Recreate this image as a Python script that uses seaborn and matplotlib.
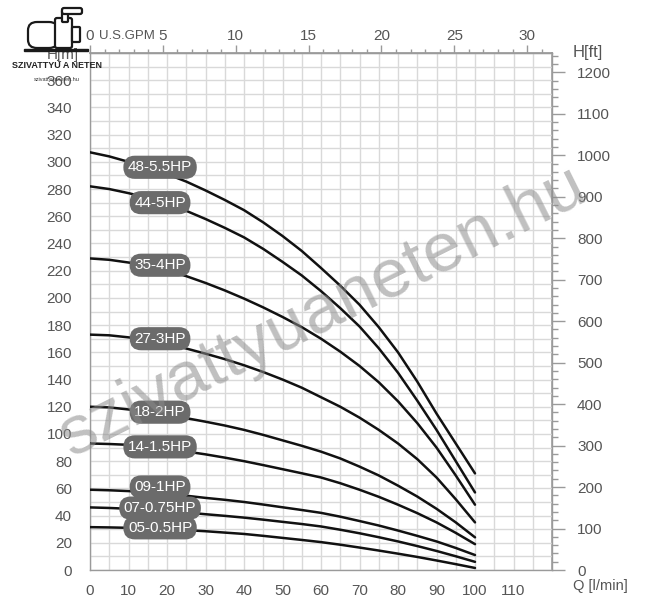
import numpy as np
import pandas as pd
import matplotlib
matplotlib.use("Agg")
import matplotlib.pyplot as plt
import seaborn as sns
from matplotlib.patches import FancyBboxPatch, Rectangle

# ---------------- data ----------------
flow = [0, 5, 10, 15, 20, 25, 30, 35, 40, 45, 50, 55, 60, 65, 70, 75, 80, 85, 90, 95, 100]  # l/min
models = ["48-5.5HP", "44-5HP", "35-4HP", "27-3HP", "18-2HP",
          "14-1.5HP", "09-1HP", "07-0.75HP", "05-0.5HP"]
h_48 = [307, 304, 300, 296, 291, 285.5, 279, 272, 264.5, 255.5, 245.5, 234.5, 222, 209, 195, 178.5, 160, 138.5, 115, 93, 71]
h_44 = [282, 280, 277, 273.5, 269, 264, 258, 251.5, 244.5, 236, 226.5, 216.5, 205, 192.5, 179, 163, 145, 124.5, 103, 80, 57]
h_35 = [229, 228, 226, 223.5, 220, 216, 211, 205.5, 199.5, 193, 186, 178.5, 170, 160.5, 150, 138, 124, 108, 90, 69.5, 48]
h_27 = [173, 172.5, 171, 169, 166, 162.8, 159, 155, 150.5, 145.5, 140, 134, 127, 120, 112, 103, 93, 81.5, 68, 52, 35]
h_18 = [120, 119.5, 118, 116.2, 114, 111.6, 109, 106.2, 103, 99.3, 95.3, 91.3, 87, 82, 76, 69.5, 62, 54, 45, 35, 24]
h_14 = [93, 92.6, 92, 90.7, 89, 87.1, 85, 82.6, 80, 77.1, 74.1, 71.1, 68, 63.8, 59, 53.8, 48, 41.8, 35, 27.3, 19]
h_09 = [59, 58.6, 58, 57.1, 56, 54.6, 53, 51.6, 50, 48.1, 46.1, 44.1, 42, 39.2, 36, 32.7, 29, 25.1, 21, 16.2, 11]
h_07 = [46, 45.6, 45, 44.3, 43.5, 42.3, 41, 39.8, 38.5, 37, 35.4, 33.8, 32, 29.6, 27, 24.1, 21, 17.6, 14, 10.1, 6]
h_05 = [31.5, 31.3, 31, 30.5, 30, 29.3, 28.5, 27.5, 26.5, 25.1, 23.6, 22.1, 20.5, 18.6, 16.5, 14.3, 12, 9.6, 7, 4.3, 1.5]
heads = [h_48, h_44, h_35, h_27, h_18, h_14, h_09, h_07, h_05]
label_y = [296, 270, 224, 170, 116, 90.5, 61, 45.5, 31]  # label box heights (m)
label_x = 18.2

x_ticks = list(range(0, 121, 10))
x_ticklabels = [str(v) for v in range(0, 111, 10)] + [""]
y_ticks = list(range(0, 381, 20))
y_ticklabels = [str(v) for v in range(0, 361, 20)] + [""]
gpm_ticks = list(range(0, 31, 5))
ft_ticks = list(range(0, 1201, 100))

df = pd.DataFrame({
    "Q": np.tile(flow, len(models)),
    "H": np.concatenate(heads),
    "model": np.repeat(models, len(flow)),
})

# ---------------- style ----------------
sns.set_theme(style="white")
plt.rcParams["font.family"] = ["Liberation Sans", "DejaVu Sans"]
txt = "#555555"
spine_c = "#9a9a9a"
grid_c = "#d9d9d9"

fig = plt.figure(figsize=(6.45, 6.0), dpi=100)
ax = fig.add_axes([90 / 645, 1 - 570 / 600, (552 - 90) / 645, (570 - 53) / 600])

sns.lineplot(data=df, x="Q", y="H", hue="model", palette=["#111111"] * len(models),
             linewidth=1.8, legend=False, ax=ax, zorder=3)

ax.set_xlim(0, 120)
ax.set_ylim(0, 380)
ax.set_xlabel("")
ax.set_ylabel("")

ax.set_xticks(x_ticks)
ax.set_xticklabels(x_ticklabels)
ax.set_xticks(np.arange(0, 121, 5), minor=True)
ax.set_yticks(y_ticks)
ax.set_yticklabels(y_ticklabels)
ax.set_yticks(np.arange(0, 381, 10), minor=True)
ax.grid(True, which="both", color=grid_c, linewidth=1.0, zorder=0)
ax.set_axisbelow(True)
ax.tick_params(axis="both", which="major", direction="out", length=7, width=1,
               color=spine_c, labelcolor=txt, labelsize=11)
ax.tick_params(axis="x", which="major", pad=3)
ax.tick_params(axis="y", which="major", pad=6)
ax.tick_params(axis="both", which="minor", length=0)
for s in ax.spines.values():
    s.set_color(spine_c)
    s.set_linewidth(1.0)

# top axis: U.S. GPM
sec_x = ax.secondary_xaxis("top", functions=(lambda q: q / 3.785, lambda g: g * 3.785))
sec_x.set_xticks(gpm_ticks)
sec_x.set_xticks(np.arange(0, 32, 1), minor=True)
sec_x.tick_params(axis="x", which="major", direction="out", length=6, width=1,
                  color=spine_c, labelcolor=txt, labelsize=11, pad=1)
sec_x.tick_params(axis="x", which="minor", direction="out", length=3, width=1, color=spine_c)
sec_x.spines["top"].set_color(spine_c)

# right axis: H[ft]
sec_y = ax.secondary_yaxis("right", functions=(lambda m: m / 0.3048, lambda f: f * 0.3048))
sec_y.set_yticks(ft_ticks)
sec_y.set_yticks(np.arange(0, 1241, 20), minor=True)
sec_y.tick_params(axis="y", which="major", direction="out", length=9, width=1,
                  color=spine_c, labelcolor=txt, labelsize=11, pad=9)
sec_y.tick_params(axis="y", which="minor", direction="out", length=4, width=1, color=spine_c)
sec_y.spines["right"].set_color(spine_c)

# axis titles
fig.text(99 / 645, 1 - 36 / 600, "U.S.GPM", color=txt, fontsize=9.5, ha="left", va="center")
fig.text(573 / 645, 1 - 52 / 600, "H[ft]", color=txt, fontsize=12, ha="left", va="center")
fig.text(63 / 645, 1 - 55 / 600, "H[m]", color=txt, fontsize=11, ha="center", va="center")
fig.text(573 / 645, 1 - 586 / 600, "Q [l/min]", color=txt, fontsize=10.5, ha="left", va="center")

# model labels
for name, yv in zip(models, label_y):
    ax.text(label_x, yv, name, color="white", fontsize=11, ha="center", va="center", zorder=5,
            bbox=dict(boxstyle="round,pad=0.3,rounding_size=0.75", fc="#6b6b6b", ec="none"))

# watermark
fig.text(322 / 645, 1 - 312 / 600, "szivattyuaneten.hu", fontsize=50, color="#8c8c8c",
         alpha=0.55, rotation=26.5, ha="center", va="center", zorder=10)

# logo (decorative)
def px(x0, y0, w, h):
    return (x0 / 645, 1 - (y0 + h) / 600, w / 645, h / 600)

lc = "#1a1a1a"
for (x0, y0, w, h, r) in [(28, 22, 30, 26, 9), (55, 18, 17, 30, 2), (72, 27, 8, 15, 1),
                          (62, 10, 6, 12, 1), (62, 8, 20, 6, 2)]:
    X, Y, W, H = px(x0, y0, w, h)
    fig.patches.append(FancyBboxPatch((X, Y), W, H, boxstyle=f"round,pad=0,rounding_size={r / 645}",
                                      transform=fig.transFigure, fc="white", ec=lc, lw=1.6,
                                      zorder=20))
X, Y, W, H = px(24, 49, 64, 2)
fig.patches.append(Rectangle((X, Y), W, H, transform=fig.transFigure, fc=lc, ec=lc, zorder=20))
fig.text(57 / 645, 1 - 65 / 600, "SZIVATTYÚ A NETEN", fontsize=6.5, fontweight="bold",
         color="#222222", ha="center", va="center", zorder=21)
fig.text(57 / 645, 1 - 79 / 600, "szivattyuaneten.hu", fontsize=4, color="#333333",
         ha="center", va="center", zorder=21)

fig.savefig("out.png", dpi=100)
